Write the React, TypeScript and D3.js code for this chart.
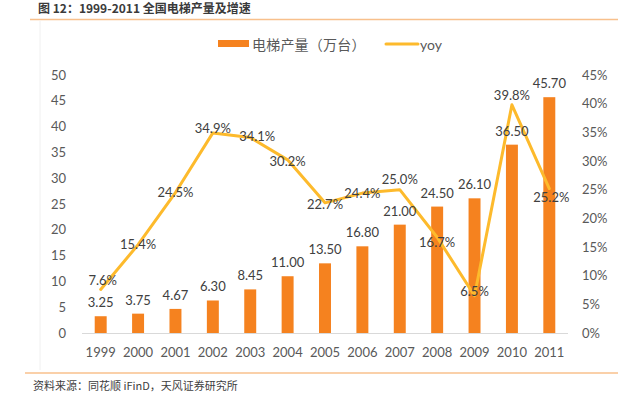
import React from "react";
import { scaleBand, scaleLinear, line } from "d3";

const years = ["1999", "2000", "2001", "2002", "2003", "2004", "2005", "2006", "2007", "2008", "2009", "2010", "2011"];
const output = [3.25, 3.75, 4.67, 6.3, 8.45, 11.0, 13.5, 16.8, 21.0, 24.5, 26.1, 36.5, 45.7];
const yoy = [7.6, 15.4, 24.5, 34.9, 34.1, 30.2, 22.7, 24.4, 25.0, 16.7, 6.5, 39.8, 25.2];
const leftTicks = [0, 5, 10, 15, 20, 25, 30, 35, 40, 45, 50];
const rightTicks = [0, 5, 10, 15, 20, 25, 30, 35, 40, 45];
// nudges for yoy labels so they sit like the original
const yoyLabelDy = [-4, 4, 4, 0, 4, 6, 6, 5, -6, 10, 0, -5, 13];
const yoyLabelDx = [2, 0, 0, 0, 7, 0, 0, 0, 0, 0, 0, 0, 2];

const W = 618, H = 399;
const font = "Lato, 'Noto Sans CJK SC', sans-serif";
const barColor = "#F5821F";
const lineColor = "#FDBA2C";

export default function App() {
    const x = scaleBand().domain(years).range([82, 568]).paddingInner(0.68).paddingOuter(0.34);
    const yL = scaleLinear().domain([0, 50]).range([333, 75]);
    const yR = scaleLinear().domain([0, 45]).range([333, 75]);
    const cx = (d: string) => (x(d) || 0) + x.bandwidth() / 2;
    const path = line<number>().x((d, i) => cx(years[i])).y(d => yR(d))(yoy) || "";

    return (
        <svg width={W} height={H} style={{ position: "absolute", left: 0, top: 0, background: "#fff" }}>
            <text x={38} y={13} fontFamily="'Noto Sans CJK SC', sans-serif" fontWeight="bold" fontSize={12} fill="#3a3a3a">
                图 12：1999-2011 全国电梯产量及增速
            </text>
            <line x1={30} x2={W} y1={19.5} y2={19.5} stroke="#F8C08C" strokeWidth={1.5} />
            <line x1={40} x2={40} y1={21} y2={370} stroke="#f0f0f0" />

            {/* legend */}
            <rect x={218} y={40} width={31} height={7} fill={barColor} />
            <text x={252} y={49.5} fontFamily={font} fontSize={14} fill="#595959" letterSpacing={0.2}>电梯产量（万台）</text>
            <line x1={386} x2={418} y1={44} y2={44} stroke={lineColor} strokeWidth={3} strokeLinecap="round" />
            <text x={420} y={49.5} fontFamily={font} fontSize={14} fill="#595959">yoy</text>

            {/* axes */}
            {leftTicks.map(t => (
                <text key={"l" + t} x={66} y={yL(t) + 4.5} textAnchor="end" fontFamily={font} fontSize={13} fill="#595959">{t}</text>
            ))}
            {rightTicks.map(t => (
                <text key={"r" + t} x={582} y={yR(t) + 4.5} fontFamily={font} fontSize={13} fill="#595959">{t}%</text>
            ))}
            <line x1={82} x2={568} y1={333.5} y2={333.5} stroke="#d9d9d9" />
            {years.map(y => (
                <text key={"x" + y} x={cx(y)} y={357} textAnchor="middle" fontFamily={font} fontSize={13} fill="#595959">{y}</text>
            ))}

            {/* bars */}
            {years.map((y, i) => (
                <rect key={"b" + y} x={x(y)} y={yL(output[i])} width={x.bandwidth()} height={333 - yL(output[i])} fill={barColor} />
            ))}
            <path d={path} fill="none" stroke={lineColor} strokeWidth={3} strokeLinejoin="round" strokeLinecap="round" />

            {/* labels */}
            {years.map((y, i) => (
                <text key={"bl" + y} x={cx(y)} y={yL(output[i]) - 9} textAnchor="middle" fontFamily={font} fontSize={13} fill="#404040">
                    {output[i].toFixed(2)}
                </text>
            ))}
            {years.map((y, i) => (
                <text key={"yl" + y} x={cx(y) + yoyLabelDx[i]} y={yR(yoy[i]) + yoyLabelDy[i]} textAnchor="middle" fontFamily={font} fontSize={13} fill="#404040">
                    {yoy[i].toFixed(1)}%
                </text>
            ))}

            <line x1={25} x2={W} y1={373} y2={373} stroke="#F8C08C" strokeWidth={1.5} />
            <text x={33} y={390} fontFamily="'Noto Sans CJK SC', sans-serif" fontSize={11} fill="#404040">
                资料来源：同花顺 iFinD，天风证券研究所
            </text>
        </svg>
    );
}
